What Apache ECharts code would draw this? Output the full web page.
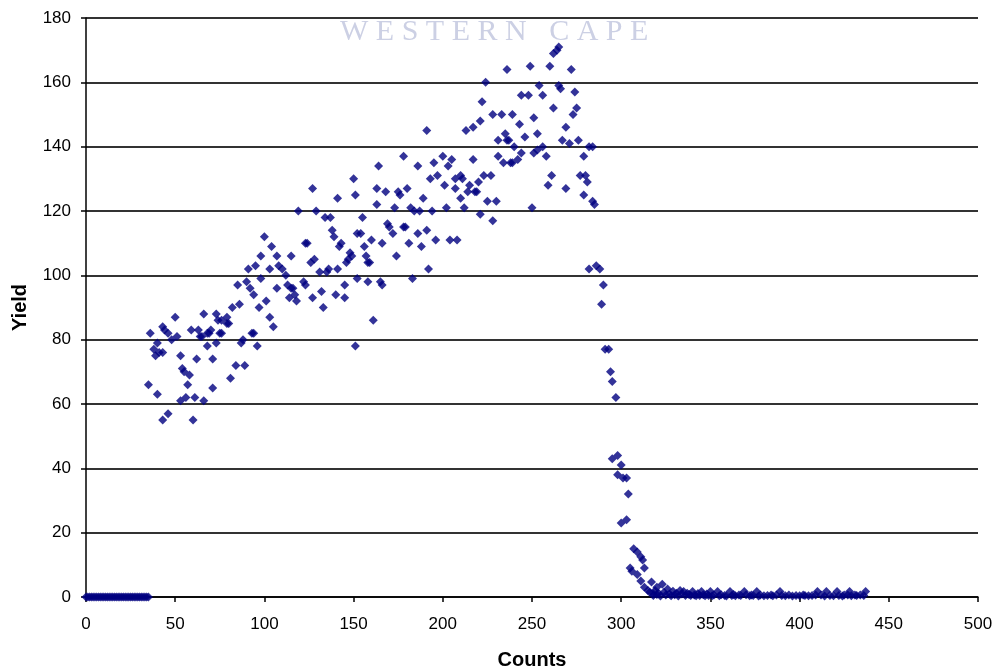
<!DOCTYPE html>
<html><head><meta charset="utf-8">
<script src="https://cdn.jsdelivr.net/npm/echarts@6/dist/echarts.min.js"></script>
<style>html,body{margin:0;padding:0;background:#fff}#c{width:1008px;height:672px}</style>
</head><body><div id="c"></div>
<script>
// Zero-yield region at low counts
const lowCounts = [0,1,2,3,4,5,6,7,8,9,10,11,12,13,14,15,16,17,18,19,20,21,22,23,24,25,26,27,28,29,30,31,32,33,34,35];
const lowYield  = [0,0,0,0,0,0,0,0,0,0,0,0,0,0,0,0,0,0,0,0,0,0,0,0,0,0,0,0,0,0,0,0,0,0,0,0];

// Rising cloud [counts, yield]
const risePoints = [
[35,66],[36,82],[38,77],[39,75],[40,79],[40,63],[41,76],[43,84],[43,76],[43,55],[44,83],[46,82],[46,57],[48,80],
[50,87],[51,81],[53,75],[53,61],[54,71],[55,70],[56,62],[57,66],[58,69],[59,83],[60,55],[61,62],[62,74],[63,83],
[64,81],[65,81],[66,88],[66,61],[68,82],[68,78],[69,82],[70,83],[71,74],[71,65],[73,88],[73,79],[74,86],[75,82],
[76,82],[76,86],[79,85],[79,87],[80,85],[81,68],[82,90],[84,72],[85,97],[86,91],[87,79],[88,80],[89,72],[90,98],
[91,102],[92,96],[93,82],[94,94],[94,82],[95,103],[96,78],[97,90],[98,106],[98,99],[100,112],[101,92],[103,102],
[103,87],[104,109],[105,84],[107,106],[107,96],[108,103],[110,102],[112,100],[113,97],[114,93],[115,106],[115,96],
[116,96],[117,94],[118,92],[119,120],[122,98],[123,110],[123,97],[124,110],[126,104],[127,127],[127,93],[128,105],
[129,120],[131,101],[132,95],[133,90],[134,118],[135,101],[136,102],[137,118],[138,114],[139,112],[140,94],[141,124],
[141,102],[142,109],[143,110],[145,97],[145,93],[146,104],[147,105],[148,107],[149,106],[150,130],[151,125],[151,78],
[152,113],[152,99],[154,113],[155,118],[156,109],[157,106],[158,104],[158,98],[159,104],[160,111],[161,86],[163,127],
[163,122],[164,134],[165,98],[166,110],[166,97],[168,126],[169,116],[170,115],[172,113],[173,121],[174,106],[175,126],
[176,125],[178,137],[178,115],[179,115],[180,127],[181,110],[182,121],[183,99],[184,120],[186,134],[186,113],[187,120],
[188,109],[189,124],[191,145],[191,114],[192,102],[193,130],[194,120],[195,135],[196,111],[197,131],[200,137],[201,128],
[202,121],[203,134],[204,111],[205,136],[207,130],[207,127],[208,111],[210,124],[210,131],[211,130],[212,121],[213,145],
[214,126],[215,128],[217,146],[217,136],[218,126],[219,126],[220,129],[221,148],[221,119],[222,154],[223,131],[224,160],
[225,123],[227,131],[228,150],[228,117],[230,123],[231,142],[231,137],[233,150],[234,135],[235,144],[236,164],[236,142],
[237,142],[238,135],[239,150],[239,135],[240,140],[242,136],[243,147],[244,156],[244,138],[246,143],[248,156],[249,165],
[250,121],[251,149],[251,138],[253,144],[253,139],[254,159],[256,156],[256,140],[258,137],[259,128],[260,165],[261,131],
[262,152],[262,169],[264,170],[265,171],[265,159],[266,158],[267,142],[269,146],[269,127],[271,141],[272,164],[273,150],
[274,157],[275,152],[276,142],[277,131],[279,137],[279,125],[280,131],[281,129],[282,140],[284,140],[284,123],[285,122]
];

// Falling edge
const fallPoints = [
[282,102],[286,103],[288,102],[290,97],[289,91],[291,77],[293,77],[294,70],[295,67],[297,62],[295,43],[298,44],
[300,41],[298,38],[301,37],[303,37],[304,32],[300,23],[303,24],[307,15],[309,14],[311,12.5],[312,11.5],[305,9],
[306,8],[313,9],[309,7],[311,5],[317,4.7],[313,3],[315,2],[318,1],[323,4],[320,3]
];

// Tail near zero
const tailPoints = [
[316,1.5],[318,0.5],[319,2],[320,0.8],[321,1.2],[322,0.3],[324,1.5],[325,0.6],[326,2.5],[327,0.9],[328,0.4],[329,1.8],
[330,0.7],[331,1.2],[332,0.3],[333,2],[334,0.9],[335,1.7],[336,0.5],[337,1.2],[338,0.8],[339,0.5],[340,1.7],[341,0.6],
[342,0.4],[343,1.1],[344,0.5],[345,1.7],[346,0.7],[347,0.4],[348,0.9],[349,0.5],[350,1.7],[351,0.4],[352,0.6],[354,1.7],
[355,0.4],[356,0.7],[358,0.5],[359,0.3],[361,1.7],[362,0.5],[363,0.8],[364,0.4],[366,0.6],[367,0.5],[369,1.7],[370,0.7],
[372,0.4],[373,0.6],[374,0.5],[376,1.7],[377,0.3],[378,0.6],[380,0.4],[382,0.5],[384,0.6],[385,0.4],[387,0.6],[389,1.7],
[390,0.5],[392,0.4],[394,0.6],[396,0.3],[398,0.5],[400,0.4],[402,0.6],[403,0.5],[405,0.4],[407,0.5],[409,0.6],[410,1.7],
[412,0.6],[414,0.3],[415,1.7],[417,0.5],[419,0.4],[421,1.7],[422,0.5],[424,0.3],[425,0.6],[427,0.6],[428,1.7],[429,0.4],
[431,0.6],[432,0.5],[434,0.6],[436,0.5],[437,1.7]
];

const xName = 'Counts';
const yName = 'Yield';
const watermark = 'W E S T E R N   C A P E';

const lowPoints = lowCounts.map((c, i) => [c, lowYield[i]]);
const allPoints = lowPoints.concat(risePoints, fallPoints, tailPoints);

const chart = echarts.init(document.getElementById('c'), null, {renderer: 'canvas'});
const tickFont = {fontFamily: 'Liberation Sans', fontSize: 17, color: '#000'};
chart.setOption({
  animation: false,
  backgroundColor: '#fff',
  grid: {left: 86, right: 30, top: 18, bottom: 75, containLabel: false, outerBoundsMode: 'none'},
  xAxis: {
    type: 'value', min: 0, max: 500, interval: 50,
    name: xName, nameLocation: 'middle', nameGap: 53,
    nameTextStyle: {fontFamily: 'Liberation Sans', fontSize: 20, fontWeight: 'bold', color: '#000'},
    axisLine: {show: true, onZero: false, lineStyle: {color: '#000', width: 1.5}},
    axisTick: {show: true, length: 5, inside: false, lineStyle: {color: '#000', width: 1.5}},
    axisLabel: Object.assign({margin: 19}, tickFont),
    splitLine: {show: false}
  },
  yAxis: {
    type: 'value', min: 0, max: 180, interval: 20,
    name: yName, nameLocation: 'middle', nameGap: 56, nameRotate: 90,
    nameTextStyle: {fontFamily: 'Liberation Sans', fontSize: 20, fontWeight: 'bold', color: '#000'},
    axisLine: {show: true, onZero: false, lineStyle: {color: '#000', width: 1.5}},
    axisTick: {show: true, length: 5, inside: false, lineStyle: {color: '#000', width: 1.5}},
    axisLabel: Object.assign({margin: 15}, tickFont),
    splitLine: {show: true, lineStyle: {color: '#333', width: 1.8}}
  },
  graphic: [{
    type: 'text', left: 340, top: 17, z: 100, silent: true,
    style: {text: watermark, fontFamily: 'Liberation Serif', fontSize: 30, fill: '#ccd0e4'}
  }],
  series: [{
    type: 'scatter', data: allPoints, symbol: 'diamond', symbolSize: 9,
    itemStyle: {color: '#000080'}, z: 5
  }]
});
</script>
</body></html>
